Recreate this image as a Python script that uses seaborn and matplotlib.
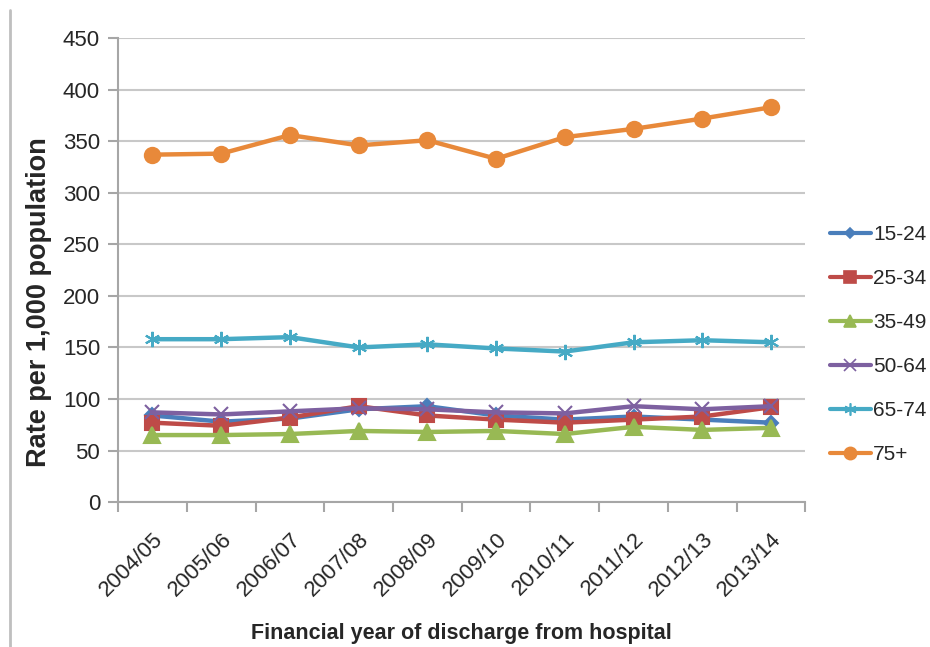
#%%libraries
import pandas as pd
import seaborn as sb
import matplotlib.pyplot as plt
from matplotlib.lines import Line2D

#%%data
years=["2004/05","2005/06","2006/07","2007/08","2008/09",
       "2009/10","2010/11","2011/12","2012/13","2013/14"]
groups=["15-24","25-34","35-49","50-64","65-74","75+"]
r15_24=[84,78,81,90,93,84,80,83,80,77]
r25_34=[77,74,82,93,84,80,77,80,83,92]
r35_49=[65,65,66,69,68,69,66,73,70,72]
r50_64=[87,85,88,91,90,87,86,93,90,93]
r65_74=[158,158,160,150,153,149,146,155,157,155]
r75=[337,338,356,346,351,333,354,362,372,383]

#%%long table
values=[r15_24,r25_34,r35_49,r50_64,r65_74,r75]
df=pd.DataFrame([(y,g,v) for g,vals in zip(groups,values)
                 for y,v in zip(years,vals)],
                columns=["year","group","rate"])

colors=["#4A7EBB","#BE4B48","#98B954","#7D60A0","#46AAC5","#E8893A"]
markers=["D","s","^","x",(6,2,0),"o"]
msizes=[7,10,11,10,11,11]

#%%plot
sb.set_style("white")
plt.rcParams["font.family"]=["Liberation Sans","DejaVu Sans"]
fig=plt.figure(figsize=(9.3,6.47),dpi=100)
ax=fig.add_axes([0.127,0.224,0.739,0.717])

for g,c,m,ms in zip(groups,colors,markers,msizes):
    sb.lineplot(data=df[df["group"]==g],x="year",y="rate",ax=ax,
                color=c,marker=m,markersize=ms,linewidth=3.2,
                markeredgecolor=c,markeredgewidth=1.5,label=g)

ax.set_xlim(-0.5,9.5)
ax.set_ylim(0,450)
ax.set_yticks(range(0,451,50))
ax.grid(axis="y",color="#C8C8C8",linewidth=1.5)
ax.grid(axis="x",visible=False)
for s in ["top","right"]:
    ax.spines[s].set_visible(False)
for s in ["left","bottom"]:
    ax.spines[s].set_color("#A6A6A6")
    ax.spines[s].set_linewidth(1.5)

ax.set_xticks(range(len(years)))
ax.set_xticklabels(years,rotation=45,ha="right",rotation_mode="anchor")
ax.set_xticks([i-0.5 for i in range(len(years)+1)],minor=True)
ax.tick_params(axis="x",which="major",length=0,labelsize=16,pad=19)
ax.tick_params(axis="x",which="minor",length=7,width=1.5,color="#A6A6A6",bottom=True)
ax.tick_params(axis="y",length=7,width=1.5,color="#A6A6A6",left=True,labelsize=16,pad=6)

ax.set_xlabel("Financial year of discharge from hospital",
              fontsize=15.5,fontweight="bold",labelpad=16)
ax.set_ylabel("Rate per 1,000 population",
              fontsize=19.5,fontweight="bold")
ax.yaxis.set_label_coords(-0.096,0.43)

handles=[Line2D([],[],color=c,marker=m,markersize=ms*0.8,linewidth=3,
                markeredgecolor=c,markeredgewidth=1.2)
         for c,m,ms in zip(colors,markers,msizes)]
ax.legend(handles,groups,loc="center left",bbox_to_anchor=(0.892,0.467),
          bbox_transform=fig.transFigure,frameon=False,fontsize=15,
          handlelength=2.0,handletextpad=0.1,labelspacing=1.2,
          borderaxespad=0,borderpad=0)

#frame line on the left side of the picture
fig.add_artist(Line2D([0.011,0.011],[0.0,0.985],transform=fig.transFigure,
                      color="#BFBFBF",linewidth=2))

fig.savefig("out.png",dpi=100)
